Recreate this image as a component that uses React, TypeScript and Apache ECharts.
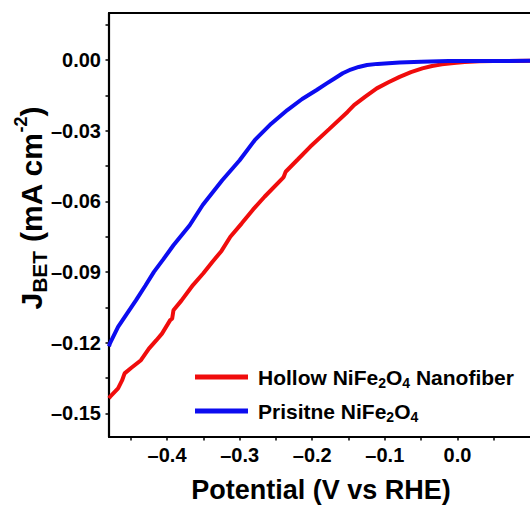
import React, { useEffect, useRef } from "react";
import * as echarts from "echarts";

const hollowX = [-0.48, -0.4787, -0.4675, -0.462, -0.4585, -0.45, -0.436, -0.425, -0.415, -0.407, -0.3957, -0.393, -0.3912, -0.38, -0.3643, -0.35, -0.3374, -0.325, -0.3128, -0.2971, -0.2817, -0.2657, -0.241, -0.2395, -0.2366, -0.22, -0.2029, -0.1767, -0.1514, -0.1424, -0.1269, -0.1111, -0.095, -0.0796, -0.064, -0.0483, -0.035, -0.0214, -0.005, 0.01, 0.03, 0.05, 0.1];
const hollowY = [-0.1435, -0.143, -0.1394, -0.136, -0.133, -0.1308, -0.1274, -0.1225, -0.119, -0.1161, -0.1104, -0.1098, -0.1062, -0.102, -0.0955, -0.0905, -0.0856, -0.081, -0.075, -0.0693, -0.0635, -0.058, -0.0502, -0.0497, -0.0474, -0.0422, -0.0368, -0.0293, -0.022, -0.0191, -0.0155, -0.012, -0.0094, -0.0071, -0.0051, -0.0035, -0.0025, -0.0018, -0.0012, -0.0008, -0.0005, -0.0004, -0.0003];

const pristineX = [-0.48, -0.4787, -0.4675, -0.455, -0.4427, -0.43, -0.4181, -0.405, -0.3912, -0.3688, -0.3509, -0.324, -0.3, -0.2792, -0.2565, -0.2343, -0.2139, -0.1939, -0.18, -0.1693, -0.158, -0.1469, -0.136, -0.1245, -0.11, -0.095, -0.0796, -0.05, -0.0124, 0.1];
const pristineY = [-0.1215, -0.1203, -0.1132, -0.1075, -0.1019, -0.0958, -0.0899, -0.0845, -0.0786, -0.0701, -0.0615, -0.051, -0.0425, -0.034, -0.027, -0.0212, -0.0165, -0.0127, -0.0099, -0.0078, -0.0056, -0.004, -0.0029, -0.0021, -0.0016, -0.0013, -0.001, -0.0007, -0.0004, -0.0003];

const xMajor = [-0.4, -0.3, -0.2, -0.1, 0.0];
const xMinor = [-0.45, -0.35, -0.25, -0.15, -0.05, 0.05];
const yMajor = [-0.15, -0.12, -0.09, -0.06, -0.03, 0.0];
const yMinor = [-0.135, -0.105, -0.075, -0.045, -0.015, 0.015];

const seriesNames = ["Hollow NiFe2O4 Nanofiber", "Prisitne NiFe2O4"];
const FONT = "'Liberation Sans', Arial, Helvetica, sans-serif";

const fmt = (v: number, d: number) => (v < -1e-9 ? "\u2013" : "") + Math.abs(v).toFixed(d);

export default function App() {
  const ref = useRef<HTMLDivElement>(null);
  useEffect(() => {
    if (!ref.current) return;
    const chart = echarts.init(ref.current, null, { renderer: "svg" });
    const red = "rgb(240,12,12)";
    const blue = "rgb(12,12,240)";
    const legendRich = {
      n: { fontSize: 21, fontWeight: "bold", fontFamily: FONT, fill: "#000", color: "#000", lineHeight: 26, verticalAlign: "middle" },
      s: { fontSize: 14, fontWeight: "bold", fontFamily: FONT, fill: "#000", color: "#000", lineHeight: 14, verticalAlign: "bottom" },
    };
    chart.setOption({
      animation: false,
      grid: { left: 109, top: 13, width: 431.2, height: 424, show: false },
      xAxis: [
        {
          type: "value",
          min: -0.48,
          max: 0.1,
          position: "bottom",
          splitLine: { show: false },
          axisLine: { show: true, onZero: false, lineStyle: { color: "#000", width: 2.2 } },
          axisTick: { show: true, inside: false, length: 3.5, customValues: [...xMajor, ...xMinor], lineStyle: { color: "#000", width: 1.5 } },
          axisLabel: {
            customValues: xMajor,
            formatter: (v: number) => fmt(v, 1),
            fontSize: 20,
            fontWeight: "bold",
            fontFamily: FONT,
            color: "#000",
            margin: 8,
          },
        },
        {
          type: "value",
          min: -0.48,
          max: 0.1,
          position: "top",
          splitLine: { show: false },
          axisLine: { show: true, onZero: false, lineStyle: { color: "#000", width: 2.2 } },
          axisTick: { show: false },
          axisLabel: { show: false },
        },
      ],
      yAxis: {
        type: "value",
        min: -0.16,
        max: 0.02,
        splitLine: { show: false },
        axisLine: { show: true, onZero: false, lineStyle: { color: "#000", width: 2.2 } },
        axisTick: { show: true, inside: false, length: 3.5, customValues: [...yMajor, ...yMinor], lineStyle: { color: "#000", width: 1.5 } },
        axisLabel: {
          customValues: yMajor,
          formatter: (v: number) => fmt(v, 2),
          fontSize: 20,
          fontWeight: "bold",
          fontFamily: FONT,
          color: "#000",
          margin: 8,
        },
      },
      series: [
        {
          name: seriesNames[0],
          type: "line",
          showSymbol: false,
          data: hollowX.map((x, i) => [x, hollowY[i]]),
          lineStyle: { color: red, width: 4 },
          itemStyle: { color: red },
        },
        {
          name: seriesNames[1],
          type: "line",
          showSymbol: false,
          data: pristineX.map((x, i) => [x, pristineY[i]]),
          lineStyle: { color: blue, width: 4 },
          itemStyle: { color: blue },
        },
      ],
      graphic: [
        { type: "line", shape: { x1: 195, y1: 377, x2: 248, y2: 377 }, style: { stroke: red, lineWidth: 5 } },
        { type: "line", shape: { x1: 195, y1: 411, x2: 248, y2: 411 }, style: { stroke: blue, lineWidth: 5 } },
        {
          type: "text",
          x: 258,
          y: 377,
          style: {
            text: "{n|Hollow NiFe}{s|2}{n|O}{s|4}{n| Nanofiber}",
            rich: legendRich,
            align: "left",
            verticalAlign: "middle",
            textAlign: "left",
            textVerticalAlign: "middle",
          },
        },
        {
          type: "text",
          x: 258,
          y: 411,
          style: {
            text: "{n|Prisitne NiFe}{s|2}{n|O}{s|4}",
            rich: legendRich,
            align: "left",
            verticalAlign: "middle",
            textAlign: "left",
            textVerticalAlign: "middle",
          },
        },
        {
          type: "text",
          x: 321,
          y: 490,
          style: {
            text: "Potential (V vs RHE)",
            font: `bold 27px ${FONT}`,
            fontSize: 27,
            fontWeight: "bold",
            fontFamily: FONT,
            fill: "#000",
            align: "center",
            verticalAlign: "middle",
            textAlign: "center",
            textVerticalAlign: "middle",
          },
        },
        {
          type: "text",
          x: 31,
          y: 208,
          rotation: Math.PI / 2,
          style: {
            text: "{n|J}{s|BET}{n| (mA cm}{p|-2}{n|)}",
            rich: {
              n: { fontSize: 30, fontWeight: "bold", fontFamily: FONT, fill: "#000", color: "#000", lineHeight: 38, verticalAlign: "middle" },
              s: { fontSize: 21, fontWeight: "bold", fontFamily: FONT, fill: "#000", color: "#000", lineHeight: 21, verticalAlign: "bottom" },
              p: { fontSize: 18, fontWeight: "bold", fontFamily: FONT, fill: "#000", color: "#000", lineHeight: 18, verticalAlign: "top" },
            },
            align: "center",
            verticalAlign: "middle",
            textAlign: "center",
            textVerticalAlign: "middle",
          },
        },
      ],
    });
    return () => chart.dispose();
  }, []);
  return <div ref={ref} style={{ position: "fixed", left: 0, top: 0, width: 530, height: 511, background: "#fff" }} />;
}
